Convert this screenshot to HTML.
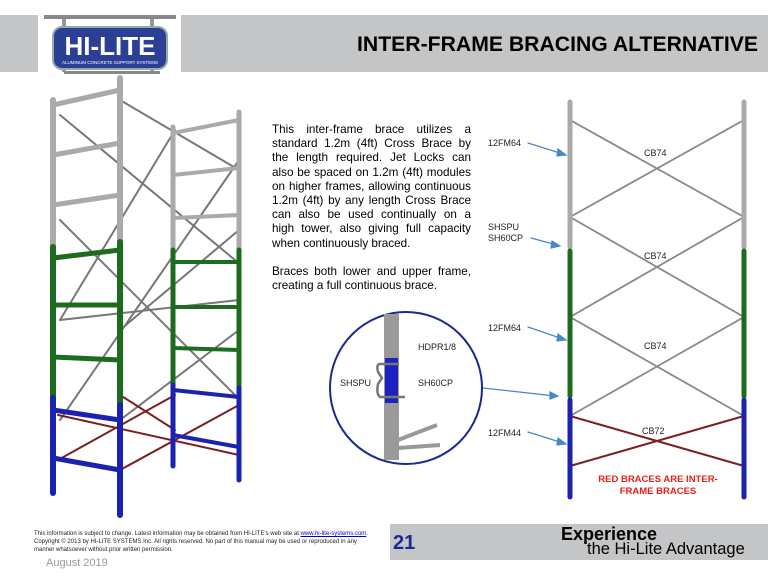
<!DOCTYPE html>
<html><head><meta charset="utf-8"><style>
body{margin:0;width:768px;height:576px;background:#fff;position:relative;overflow:hidden;font-family:"Liberation Sans",Arial,sans-serif}
.a{position:absolute}
.p{left:272px;top:123px;width:199px;font-size:11.7px;line-height:14.2px;color:#000}
.p div{text-align:justify;text-align-last:justify;white-space:nowrap}
.p div.e{text-align-last:left}
.l{font-size:9px;color:#222;position:absolute}
</style></head><body>
<div class="a" style="left:0;top:15px;width:38px;height:57px;background:#c3c5c7"></div>
<div class="a" style="left:181px;top:15px;width:587px;height:57px;background:#c3c5c7"></div>
<div class="a" style="right:10px;top:33px;font-size:21.2px;font-weight:bold">INTER-FRAME BRACING ALTERNATIVE</div>
<svg class="a" style="left:40px;top:12px" width="140" height="62">
<rect x="4" y="3" width="132" height="4" fill="#888"/>
<rect x="22" y="7" width="4" height="8" fill="#999"/><rect x="110" y="7" width="4" height="8" fill="#999"/>
<rect x="22" y="54" width="4" height="6" fill="#999"/><rect x="110" y="54" width="4" height="6" fill="#999"/>
<rect x="24" y="59" width="96" height="3" fill="#888"/>
<rect x="13" y="15" width="114" height="42" rx="9" fill="#2b3f95" stroke="#9aa" stroke-width="2"/>
<text x="70" y="43" text-anchor="middle" font-size="26" font-weight="bold" fill="#fff" font-family="Liberation Sans">HI-LITE</text>
<text x="70" y="52" text-anchor="middle" font-size="4.5" fill="#fff" font-family="Liberation Sans">ALUMINUM CONCRETE SUPPORT SYSTEMS</text>
</svg>
<svg class="a" style="left:0;top:0" width="768" height="576">
<g stroke-linecap="round">
<g stroke="#777" stroke-width="2">
<line x1="60" y1="115" x2="235" y2="260"/><line x1="120" y1="100" x2="239" y2="170"/>
<line x1="60" y1="220" x2="235" y2="395"/><line x1="60" y1="320" x2="239" y2="300"/>
<line x1="60" y1="420" x2="239" y2="160"/><line x1="120" y1="330" x2="239" y2="230"/>
<line x1="60" y1="320" x2="175" y2="130"/><line x1="120" y1="420" x2="239" y2="330"/>
</g>
<g stroke="#7a2020" stroke-width="2">
<line x1="58" y1="415" x2="239" y2="455"/><line x1="58" y1="460" x2="175" y2="395"/>
<line x1="120" y1="470" x2="239" y2="405"/><line x1="120" y1="395" x2="175" y2="430"/>
</g>
<g stroke-width="5">
<line x1="173" y1="127" x2="173" y2="250" stroke="#aaa"/><line x1="239" y1="112" x2="239" y2="250" stroke="#aaa"/>
<line x1="173" y1="250" x2="173" y2="385" stroke="#1d6b1d"/><line x1="239" y1="250" x2="239" y2="388" stroke="#1d6b1d"/>
<line x1="173" y1="385" x2="173" y2="466" stroke="#1b22b0"/><line x1="239" y1="388" x2="239" y2="480" stroke="#1b22b0"/>
<g stroke="#aaa" stroke-width="4"><line x1="173" y1="133" x2="239" y2="120"/><line x1="173" y1="175" x2="239" y2="168"/><line x1="173" y1="218" x2="239" y2="215"/></g>
<g stroke="#1d6b1d" stroke-width="4"><line x1="173" y1="262" x2="239" y2="262"/><line x1="173" y1="307" x2="239" y2="307"/><line x1="173" y1="348" x2="239" y2="350"/></g>
<g stroke="#1b22b0" stroke-width="4"><line x1="173" y1="390" x2="239" y2="397"/><line x1="173" y1="435" x2="239" y2="447"/></g>
</g>
<g stroke-width="6">
<line x1="53" y1="100" x2="53" y2="247" stroke="#aaa"/><line x1="120" y1="78" x2="120" y2="242" stroke="#aaa"/>
<line x1="53" y1="247" x2="53" y2="398" stroke="#1d6b1d"/><line x1="120" y1="242" x2="120" y2="405" stroke="#1d6b1d"/>
<line x1="53" y1="398" x2="53" y2="493" stroke="#1b22b0"/><line x1="120" y1="405" x2="120" y2="515" stroke="#1b22b0"/>
<g stroke="#aaa" stroke-width="5"><line x1="53" y1="105" x2="120" y2="90"/><line x1="53" y1="155" x2="120" y2="143"/><line x1="53" y1="205" x2="120" y2="195"/></g>
<g stroke="#1d6b1d" stroke-width="5"><line x1="53" y1="258" x2="120" y2="250"/><line x1="53" y1="305" x2="120" y2="305"/><line x1="53" y1="357" x2="120" y2="360"/></g>
<g stroke="#1b22b0" stroke-width="5"><line x1="53" y1="410" x2="120" y2="420"/><line x1="53" y1="458" x2="120" y2="470"/></g>
</g>
<g stroke="#888" stroke-width="1.8">
<line x1="570" y1="120" x2="744" y2="217"/><line x1="744" y1="120" x2="570" y2="217"/>
<line x1="570" y1="217" x2="744" y2="317"/><line x1="744" y1="217" x2="570" y2="317"/>
<line x1="570" y1="317" x2="744" y2="416"/><line x1="744" y1="317" x2="570" y2="416"/>
</g>
<g stroke="#7a2020" stroke-width="2"><line x1="570" y1="416" x2="744" y2="466"/><line x1="570" y1="466" x2="744" y2="416"/></g>
<g stroke-width="5">
<line x1="570" y1="102" x2="570" y2="247" stroke="#aaa"/><line x1="744" y1="102" x2="744" y2="247" stroke="#aaa"/>
<line x1="570" y1="251" x2="570" y2="396" stroke="#1d6b1d"/><line x1="744" y1="251" x2="744" y2="396" stroke="#1d6b1d"/>
<line x1="570" y1="400" x2="570" y2="497" stroke="#1b22b0"/><line x1="744" y1="400" x2="744" y2="497" stroke="#1b22b0"/>
</g>
<g stroke="#4a86c8" stroke-width="1.2" fill="#4a86c8">
<line x1="528" y1="143" x2="563" y2="154"/><polygon points="566,155 558,149 557,156"/>
<line x1="531" y1="238" x2="557" y2="245"/><polygon points="560,246 552,241 551,248"/>
<line x1="528" y1="327" x2="563" y2="339"/><polygon points="566,340 558,334 557,341"/>
<line x1="528" y1="432" x2="563" y2="443"/><polygon points="566,444 558,438 557,445"/>
<line x1="483" y1="388" x2="555" y2="396"/><polygon points="558,396 550,392 550,399"/>
</g>
</g>
<circle cx="406" cy="388" r="76" fill="#fff" stroke="#1b2a90" stroke-width="2"/>
<rect x="384" y="314" width="15" height="146" fill="#9a9a9a"/>
<rect x="385" y="358" width="13" height="45" fill="#1b22c0"/>
<path d="M399 364 H380 Q376 364 378 372 L382 378 L378 384 Q376 394 380 397 H405" stroke="#777" stroke-width="2.5" fill="none"/>
<path d="M398 440 L437 425 M398 448 L440 445" stroke="#999" stroke-width="4"/>
</svg>
<div class="p a">
<div>This inter-frame brace utilizes a</div>
<div>standard 1.2m (4ft) Cross Brace by</div>
<div>the length required. Jet Locks can</div>
<div>also be spaced on 1.2m (4ft) modules</div>
<div>on higher frames, allowing continuous</div>
<div>1.2m (4ft) by any length Cross Brace</div>
<div>can also be used continually on a</div>
<div>high tower, also giving full capacity</div>
<div class="e">when continuously braced.</div>
<div class="e">&nbsp;</div>
<div>Braces both lower and upper frame,</div>
<div class="e">creating a full continuous brace.</div>
</div>
<div class="l" style="left:418px;top:342px">HDPR1/8</div>
<div class="l" style="left:340px;top:378px">SHSPU</div>
<div class="l" style="left:418px;top:378px">SH60CP</div>
<div class="l" style="left:488px;top:138px">12FM64</div>
<div class="l" style="left:488px;top:222px;line-height:11px">SHSPU<br>SH60CP</div>
<div class="l" style="left:488px;top:323px">12FM64</div>
<div class="l" style="left:488px;top:428px">12FM44</div>
<div class="l" style="left:644px;top:148px">CB74</div>
<div class="l" style="left:644px;top:251px">CB74</div>
<div class="l" style="left:644px;top:341px">CB74</div>
<div class="l" style="left:642px;top:426px">CB72</div>
<div class="a" style="left:590px;top:474px;width:136px;text-align:center;color:#e8201c;font-weight:bold;font-size:9.5px;line-height:12px">RED BRACES ARE INTER-<br>FRAME BRACES</div>
<div class="a" style="left:34px;top:530px;width:342px;font-size:6px;line-height:8px;color:#222">
<div style="white-space:nowrap">This information is subject to change. Latest information may be obtained from HI-LITE's web site at <span style="color:#00c;text-decoration:underline">www.hi-lite-systems.com</span>.</div>
<div style="white-space:nowrap">Copyright © 2013 by HI-LITE SYSTEMS Inc. All rights reserved. No part of this manual may be used or reproduced in any</div>
<div style="white-space:nowrap">manner whatsoever without prior written permission.</div></div>
<div class="a" style="left:46px;top:557px;font-size:11px;color:#999">August 2019</div>
<div class="a" style="left:390px;top:524px;width:378px;height:36px;background:#c3c5c7"></div>
<div class="a" style="left:393px;top:532px;font-size:20px;font-weight:bold;color:#1b2a90">21</div>
<div class="a" style="left:561px;top:524px;font-size:18px;font-weight:bold;line-height:20px">Experience</div>
<div class="a" style="left:587px;top:540px;font-size:16.5px;line-height:19px">the Hi-Lite Advantage</div>
</body></html>
